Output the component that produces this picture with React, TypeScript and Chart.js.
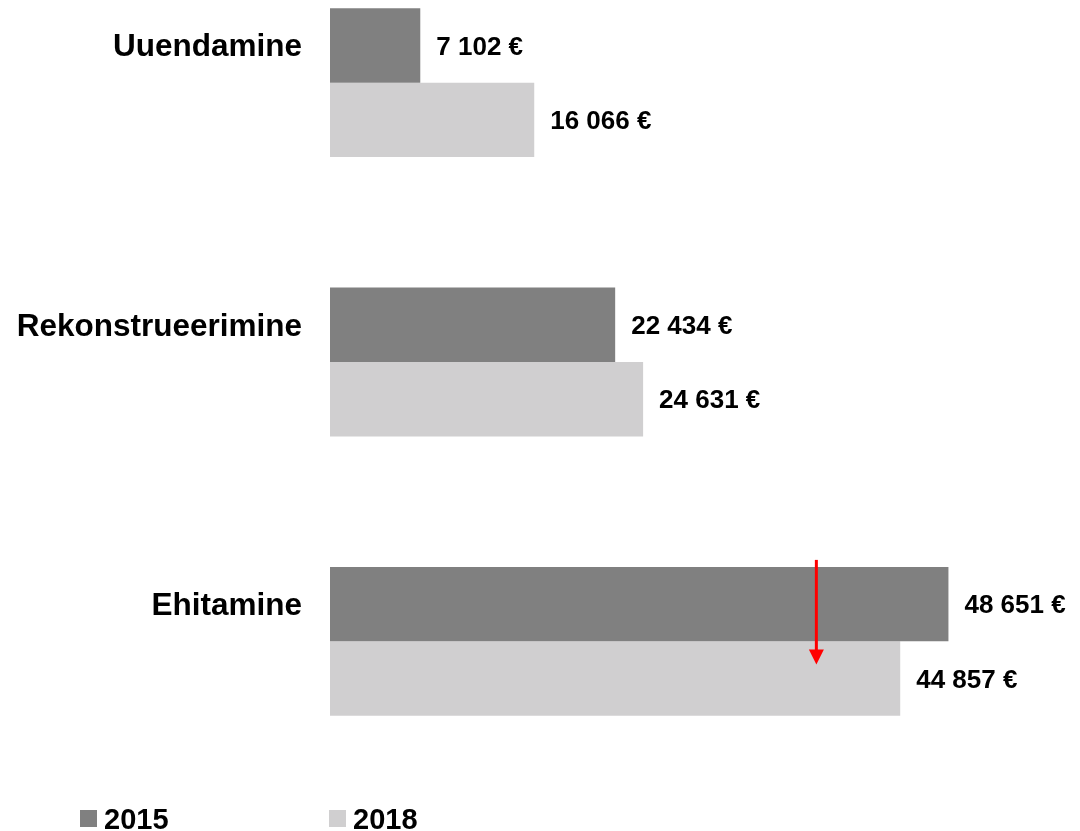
import React, { useEffect, useRef } from "react";
import { Chart, registerables } from "chart.js";

Chart.register(...registerables);

const categories = ["Uuendamine", "Rekonstrueerimine", "Ehitamine"];
const series2015 = [7102, 22434, 48651];
const series2018 = [16066, 24631, 44857];
const seriesLabels = ["2015", "2018"];
const arrowValue = 38260; // red arrow on "Ehitamine"

const FONT = '"Liberation Sans", Arial, sans-serif';
const DARK = "#808080";
const LIGHT = "#d0cfd0";

const fmt = (v: number) =>
  String(v).replace(/\B(?=(\d{3})+(?!\d))/g, " ") + " €";

const labelPlugin = {
  id: "valueLabels",
  afterDatasetsDraw(chart: any) {
    const ctx = chart.ctx;
    ctx.save();
    ctx.font = `bold 26px ${FONT}`;
    ctx.fillStyle = "#000";
    ctx.textAlign = "left";
    ctx.textBaseline = "middle";
    chart.data.datasets.forEach((ds: any, di: number) => {
      const meta = chart.getDatasetMeta(di);
      meta.data.forEach((el: any, i: number) => {
        ctx.fillText(fmt(ds.data[i]), el.x + 16, el.y + 2);
      });
    });
    ctx.restore();
  },
};

const arrowPlugin = {
  id: "arrow",
  afterDatasetsDraw(chart: any) {
    const ctx = chart.ctx;
    const b0 = chart.getDatasetMeta(0).data[2] as any;
    const b1 = chart.getDatasetMeta(1).data[2] as any;
    if (!b0 || !b1) return;
    const x = chart.scales.x.getPixelForValue(arrowValue);
    const top = b0.y - b0.height / 2 - 7;
    const tip = b1.y - 14;
    ctx.save();
    ctx.strokeStyle = "#ff0000";
    ctx.fillStyle = "#ff0000";
    ctx.lineWidth = 3;
    ctx.beginPath();
    ctx.moveTo(x, top);
    ctx.lineTo(x, tip - 12);
    ctx.stroke();
    ctx.beginPath();
    ctx.moveTo(x - 7.5, tip - 15);
    ctx.lineTo(x + 7.5, tip - 15);
    ctx.lineTo(x, tip);
    ctx.closePath();
    ctx.fill();
    ctx.restore();
  },
};

const legendPlugin = {
  id: "customLegend",
  afterDraw(chart: any) {
    const ctx = chart.ctx;
    const xs = [80, 329];
    const y = chart.height - 21;
    ctx.save();
    ctx.font = `bold 29px ${FONT}`;
    ctx.textAlign = "left";
    ctx.textBaseline = "alphabetic";
    chart.data.datasets.forEach((ds: any, i: number) => {
      ctx.fillStyle = ds.backgroundColor;
      ctx.fillRect(xs[i], y, 17, 17);
      ctx.fillStyle = "#000";
      ctx.fillText(seriesLabels[i], xs[i] + 24, y + 19);
    });
    ctx.restore();
  },
};

export default function App() {
  const ref = useRef<HTMLCanvasElement | null>(null);
  useEffect(() => {
    if (!ref.current) return;
    const chart = new Chart(ref.current, {
      type: "bar",
      data: {
        labels: categories,
        datasets: [
          {
            label: seriesLabels[0],
            data: series2015,
            backgroundColor: DARK,
            categoryPercentage: 0.533,
            barPercentage: 1,
          },
          {
            label: seriesLabels[1],
            data: series2018,
            backgroundColor: LIGHT,
            categoryPercentage: 0.533,
            barPercentage: 1,
          },
        ],
      },
      options: {
        indexAxis: "y",
        animation: false,
        responsive: false,
        maintainAspectRatio: false,
        layout: { padding: { top: 0, bottom: 50, left: 0, right: 0 } },
        plugins: {
          legend: { display: false },
          tooltip: { enabled: false },
        },
        scales: {
          x: {
            display: false,
            min: 0,
            max: 59000,
          },
          y: {
            grid: { display: false, drawTicks: false },
            border: { display: false },
            afterFit: (scale: any) => {
              scale.width = 330;
              scale.paddingTop = 0;
              scale.paddingBottom = 0;
            },
            ticks: {
              padding: 28,
              labelOffset: -35,
              color: "#000",
              font: { family: FONT, size: 31.5, weight: "bold" },
            },
          },
        },
      },
      plugins: [labelPlugin, arrowPlugin, legendPlugin],
    });
    return () => chart.destroy();
  }, []);
  return (
    <div
      style={{
        position: "absolute",
        left: 0,
        top: 0,
        width: 1080,
        height: 831,
        overflow: "hidden",
        background: "#fff",
      }}
    >
      <canvas
        ref={ref}
        width={1080}
        height={888}
        style={{ position: "absolute", left: 0, top: -57, width: 1080, height: 888 }}
      />
    </div>
  );
}
